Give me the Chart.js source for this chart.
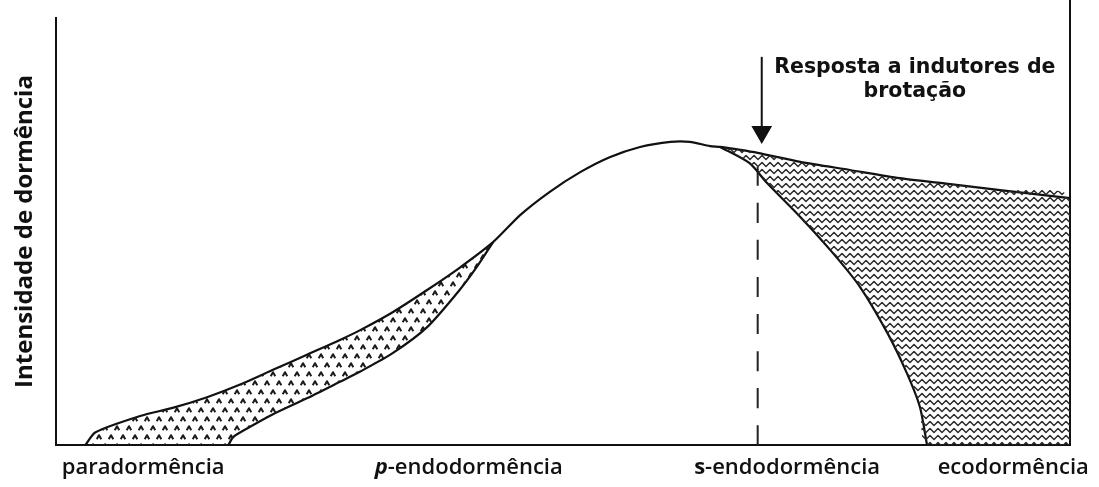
<!DOCTYPE html>
<html>
<head>
<meta charset="utf-8">
<script src="https://cdn.jsdelivr.net/npm/chart.js@4.4.0/dist/chart.umd.min.js"></script>
<style>
  html, body { margin: 0; background: #fff; }
  #wrap { width: 1099px; height: 487px; }
</style>
</head>
<body>
<div id="wrap"><canvas id="chart" width="1099" height="487"></canvas></div>
<script>
// ── Data (x: 0–100 along the season, y: 0–100 dormancy intensity) ──
const curveX = [2.9, 3.9, 8.3, 11.5, 14.9, 18.1, 21.4, 24.8, 28.0, 30.0, 33.2, 36.6, 39.8, 43.1, 45.8, 48.7, 51.7, 54.6, 57.6, 60.6, 62.5, 64.5, 65.5, 67.5, 69.2, 73.4, 78.3, 83.2, 88.2, 93.1, 100];
const curveY = [0, 3.0, 6.8, 8.7, 11.2, 14.1, 17.6, 21.2, 24.6, 26.9, 31.1, 36.3, 41.5, 47.5, 53.9, 59.3, 63.9, 67.4, 69.8, 71.0, 71.0, 70.0, 69.8, 69.1, 68.4, 66.3, 64.4, 62.5, 61.1, 59.7, 57.8];

// lower edge of the paradormência (dotted) area
const paraLowX = [17.0, 17.5, 19.1, 21.4, 24.8, 28.0, 30.0, 33.2, 36.6, 39.8, 41.5, 43.1];
const paraLowY = [0, 1.9, 4.2, 7.2, 11.0, 14.8, 17.2, 21.5, 27.6, 36.3, 41.7, 47.5];

// lower edge of the ecodormência (wavy) area
const ecoLowX = [65.5, 68.4, 70.1, 73.4, 76.6, 79.3, 82.0, 83.9, 85.2, 85.9];
const ecoLowY = [69.8, 66.0, 61.4, 53.4, 45.0, 37.0, 26.2, 16.9, 8.9, 0];

const phaseLabels = ['paradormência', '-endodormência', '-endodormência', 'ecodormência'];
const phasePrefix = ['', 'p', 's', ''];
const phaseX      = [8.6, 40.7, 72.1, 94.4];

const responseX = 69.2, responseY = [0, 65.1];   // dashed line
const arrowX = 69.6, arrowY = [90.9, 73.3];       // arrow from the note
const noteX = 84.7, noteY = [87.1, 81.5];
const noteLines = ['Resposta a indutores de', 'brotação'];

const xy = (xs, ys) => xs.map((x, i) => ({ x, y: ys[i] }));

// ── Fill patterns ───────────────────────────────
function makePattern(w, h, draw) {
  const c = document.createElement('canvas');
  c.width = w; c.height = h;
  const g = c.getContext('2d');
  draw(g);
  return g.createPattern(c, 'repeat');
}

const dotPattern = makePattern(12, 18, g => {
  g.strokeStyle = '#1a1a1a';
  g.lineWidth = 2;
  g.lineJoin = 'round';
  [[3, 5], [9, 14]].forEach(([x, y]) => {
    g.beginPath();
    g.moveTo(x - 2.3, y + 2.2); g.lineTo(x, y - 1.8); g.lineTo(x + 2.3, y + 2.2);
    g.stroke();
  });
});

const wavePattern = makePattern(8, 7, g => {
  g.strokeStyle = '#2a2a2a';
  g.lineWidth = 1.5;
  g.lineJoin = 'round';
  g.beginPath();
  g.moveTo(-2, 5.5); g.lineTo(2, 1.5); g.lineTo(6, 5.5); g.lineTo(10, 1.5);
  g.stroke();
});

// ── Regions built from the curves ───────────────
const paraEnd = paraLowX[paraLowX.length - 1];
const paraShape = xy(curveX, curveY).filter(p => p.x <= paraEnd)
  .concat(xy(paraLowX, paraLowY).reverse());

const ecoStart = ecoLowX[0];
const ecoShape = xy(curveX, curveY).filter(p => p.x >= ecoStart)
  .concat([{ x: 100, y: 0 }])
  .concat(xy(ecoLowX, ecoLowY).reverse());

// ── Text on the chart ───────────────────────────
const textPlugin = {
  id: 'texts',
  afterDraw(chart) {
    const { ctx, scales: { x, y } } = chart;
    ctx.save();
    ctx.fillStyle = '#111';
    ctx.textBaseline = 'alphabetic';

    // phase names under the axis
    const base = 474;
    phaseLabels.forEach((lab, i) => {
      const pre = phasePrefix[i];
      const preFont = (i === 1 ? 'italic ' : '') + 'bold 22px "Open Sans"';
      ctx.font = preFont;
      const wPre = pre ? ctx.measureText(pre).width : 0;
      ctx.font = '600 22px "Open Sans"';
      const wLab = ctx.measureText(lab).width;
      let left = x.getPixelForValue(phaseX[i]) - (wPre + wLab) / 2;
      ctx.textAlign = 'left';
      if (pre) {
        ctx.font = preFont;
        ctx.fillText(pre, left, base);
        left += wPre;
      }
      ctx.font = '600 22px "Open Sans"';
      ctx.fillText(lab, left, base);
    });

    // note above the arrow
    ctx.font = 'bold 20.5px "DejaVu Sans"';
    ctx.textAlign = 'center';
    noteLines.forEach((t, i) => {
      ctx.fillText(t, x.getPixelForValue(noteX), y.getPixelForValue(noteY[i]));
    });
    ctx.restore();
  }
};

// ── Chart ───────────────────────────────────────
const lineOpts = { showLine: true, borderColor: '#111', borderWidth: 2.2, pointRadius: 0 };

new Chart(document.getElementById('chart'), {
  type: 'scatter',
  data: {
    datasets: [
      { data: paraShape, showLine: true, fill: 'shape', backgroundColor: dotPattern, borderWidth: 0, pointRadius: 0 },
      { data: ecoShape,  showLine: true, fill: 'shape', backgroundColor: wavePattern, borderWidth: 0, pointRadius: 0 },
      { data: xy(curveX, curveY),     ...lineOpts },
      { data: xy(paraLowX, paraLowY), ...lineOpts },
      { data: xy(ecoLowX, ecoLowY),   ...lineOpts },
      { data: [{ x: responseX, y: responseY[0] }, { x: responseX, y: responseY[1] }],
        ...lineOpts, borderColor: '#222', borderWidth: 2, borderDash: [20, 17] },
      { data: [{ x: arrowX, y: arrowY[0] }, { x: arrowX, y: arrowY[1] }],
        showLine: true, borderColor: '#111', borderWidth: 2,
        pointRadius: [0, 10], pointStyle: 'triangle', pointRotation: 180,
        backgroundColor: '#111', pointBorderColor: '#111', clip: false },
      // right frame line
      { data: [{ x: 100, y: 0 }, { x: 100, y: 104.2 }], ...lineOpts, borderWidth: 2, clip: false },
    ],
  },
  options: {
    responsive: false,
    animation: false,
    layout: { padding: { top: 18, right: 29, left: 0, bottom: 0 } },
    plugins: { legend: { display: false }, tooltip: { enabled: false } },
    elements: { line: { tension: 0.25 } },
    scales: {
      x: {
        type: 'linear', min: 0, max: 100,
        grid: { display: false },
        border: { color: '#111', width: 2 },
        ticks: { display: false },
        afterFit: s => { s.height = 42; },
      },
      y: {
        min: 0, max: 100,
        grid: { display: false },
        border: { color: '#111', width: 2 },
        ticks: { display: false },
        title: {
          display: true, text: 'Intensidade de dormência', color: '#111',
          font: { family: 'Open Sans', size: 24, weight: 'bold' },
          padding: { top: 11, bottom: 0 },
        },
        afterFit: s => { s.width = 56; },
      },
    },
  },
  plugins: [textPlugin],
});
</script>
</body>
</html>
